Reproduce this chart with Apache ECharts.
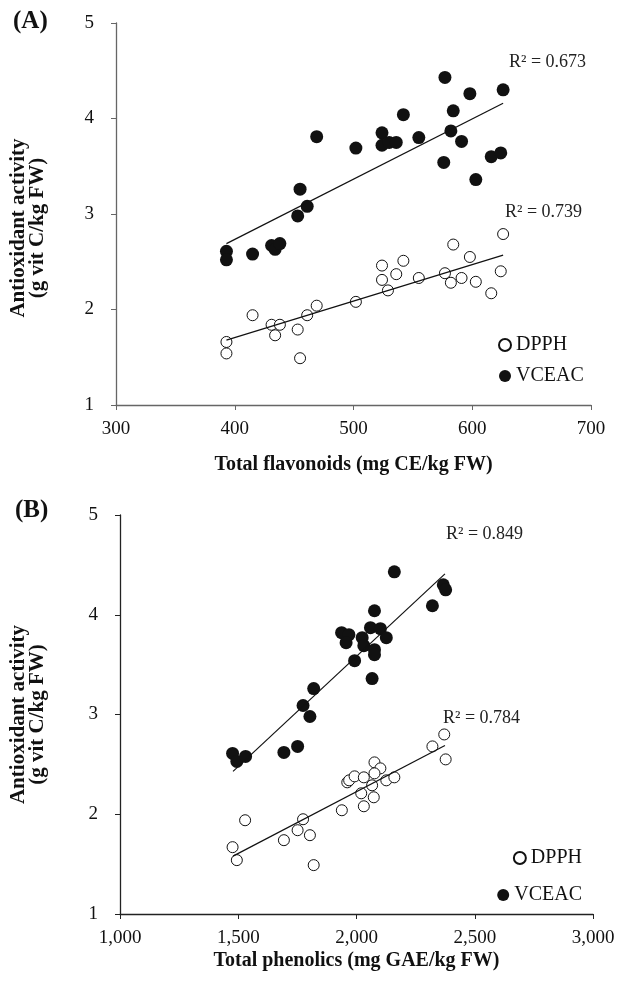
<!DOCTYPE html>
<html>
<head>
<meta charset="utf-8">
<script src="https://cdn.jsdelivr.net/npm/echarts@6/dist/echarts.min.js"></script>
<style>
  html, body { margin: 0; padding: 0; background: #fff; }
  #chart { width: 641px; height: 983px; }
</style>
</head>
<body>
<div id="chart"></div>
<script>
// panel A: total flavonoids vs antioxidant activity
var flavDPPH = [
  [393, 1.66], [393, 1.54], [415, 1.94], [431, 1.84], [434, 1.73], [438, 1.84],
  [453, 1.79], [455, 1.49], [461, 1.94], [469, 2.04], [502, 2.08], [524, 2.46],
  [524, 2.31], [529, 2.20], [536, 2.37], [542, 2.51], [555, 2.33], [577, 2.38],
  [582, 2.28], [584, 2.68], [591, 2.33], [598, 2.55], [603, 2.29], [616, 2.17],
  [624, 2.40], [626, 2.79]
];
var flavVCEAC = [
  [393, 2.61], [393, 2.52], [415, 2.58], [431, 2.67], [434, 2.63], [438, 2.69],
  [453, 2.98], [455, 3.26], [461, 3.08], [469, 3.81], [502, 3.69], [524, 3.85],
  [524, 3.72], [530, 3.75], [536, 3.75], [542, 4.04], [555, 3.80], [577, 4.43],
  [576, 3.54], [582, 3.87], [584, 4.08], [591, 3.76], [598, 4.26], [603, 3.36],
  [616, 3.60], [624, 3.64], [626, 4.30]
];
var flavFitDPPH = [[393, 1.68], [626, 2.57]];
var flavFitVCEAC = [[393, 2.69], [626, 4.16]];

// panel B: total phenolics vs antioxidant activity
var phenDPPH = [
  [1476, 1.67], [1494, 1.54], [1529, 1.94], [1693, 1.74], [1751, 1.84], [1774, 1.95],
  [1803, 1.79], [1819, 1.49], [1938, 2.04], [1961, 2.32], [1969, 2.34], [1992, 2.38],
  [2031, 2.37], [2020, 2.21], [2031, 2.08], [2066, 2.29], [2076, 2.52], [2101, 2.46],
  [2076, 2.41], [2073, 2.17], [2126, 2.34], [2160, 2.37], [2321, 2.68], [2371, 2.80],
  [2377, 2.55]
];
var phenVCEAC = [
  [1476, 2.61], [1494, 2.53], [1531, 2.58], [1693, 2.62], [1751, 2.68], [1774, 3.09],
  [1803, 2.98], [1819, 3.26], [1937, 3.82], [1968, 3.80], [1956, 3.72], [1992, 3.54],
  [2024, 3.77], [2031, 3.69], [2066, 3.36], [2059, 3.87], [2076, 4.04], [2101, 3.86],
  [2076, 3.65], [2076, 3.60], [2126, 3.77], [2160, 4.43], [2321, 4.09], [2367, 4.30],
  [2377, 4.25]
];
var phenFitDPPH = [[1478, 1.58], [2374, 2.69]];
var phenFitVCEAC = [[1478, 2.43], [2374, 4.41]];

var r2Labels = ["R\u00b2 = 0.673", "R\u00b2 = 0.739", "R\u00b2 = 0.849", "R\u00b2 = 0.784"];
var panelLabels = ["(A)", "(B)"];
var xNames = ["Total flavonoids (mg CE/kg FW)", "Total phenolics (mg GAE/kg FW)"];
var yName = "Antioxidant activity\n(g vit C/kg FW)";

var serif = "'Liberation Serif', 'Times New Roman', serif";

function xAxisFor(gridIndex, min, max, interval, axisColor, nameGap, fmt) {
  return {
    type: "value",
    gridIndex: gridIndex,
    min: min,
    max: max,
    interval: interval,
    name: xNames[gridIndex],
    nameLocation: "middle",
    nameGap: nameGap,
    nameTextStyle: { fontFamily: serif, fontSize: 20, fontWeight: "bold", color: "#111" },
    axisLine: { show: true, onZero: false, lineStyle: { color: axisColor, width: 1.3 } },
    axisTick: { show: true, length: 5, lineStyle: { color: axisColor } },
    axisLabel: { fontFamily: serif, fontSize: 19, color: "#111", margin: 15, formatter: fmt },
    splitLine: { show: false },
  };
}

function yAxisFor(gridIndex, axisColor, nameGap, namePad) {
  return {
    type: "value",
    gridIndex: gridIndex,
    min: 1,
    max: 5,
    interval: 1,
    name: yName,
    nameLocation: "middle",
    nameGap: nameGap,
    nameTextStyle: {
      fontFamily: serif, fontSize: 21, fontWeight: "bold", color: "#111",
      lineHeight: 19, padding: namePad,
    },
    axisLine: { show: true, onZero: false, lineStyle: { color: axisColor, width: 1.3 } },
    axisTick: { show: true, length: 5, lineStyle: { color: axisColor } },
    axisLabel: { fontFamily: serif, fontSize: 19, color: "#111", margin: 22 },
    splitLine: { show: false },
  };
}

function scatter(name, data, axisIdx, filled) {
  return {
    type: "scatter",
    name: name,
    xAxisIndex: axisIdx,
    yAxisIndex: axisIdx,
    data: data,
    symbol: "circle",
    symbolSize: filled ? 13 : 11,
    itemStyle: filled
      ? { color: "#111", borderColor: "#111", borderWidth: 0, opacity: 1 }
      : { color: "#fff", borderColor: "#111", borderWidth: 1, opacity: 1 },
    z: filled ? 3 : 2,
  };
}

function fitLine(name, data, axisIdx) {
  return {
    type: "line",
    name: name,
    xAxisIndex: axisIdx,
    yAxisIndex: axisIdx,
    data: data,
    symbol: "none",
    silent: true,
    lineStyle: { color: "#111", width: 1.2 },
    z: 4,
  };
}

var legendText = { fontFamily: serif, fontSize: 20, color: "#111" };

var chart = echarts.init(document.getElementById("chart"));
var option = {
  animation: false,
  backgroundColor: "#fff",
  grid: [
    { left: 114, top: 23, width: 477, height: 382 },
    { left: 118, top: 515, width: 475, height: 399 },
  ],
  xAxis: [
    xAxisFor(0, 300, 700, 100, "#666", 50, null),
    xAxisFor(1, 1000, 3000, 500, "#222", 37, function (v) {
      return v.toLocaleString("en-US");
    }),
  ],
  yAxis: [yAxisFor(0, "#666", 69, [0, 28, 0, 0]), yAxisFor(1, "#222", 73, 0)],
  legend: [
    {
      left: 498, top: 335, orient: "vertical", itemGap: 11,
      itemWidth: 12, itemHeight: 12, padding: 0,
      data: [{ name: "DPPH", icon: "circle" }, { name: "VCEAC", icon: "circle" }],
      textStyle: legendText, selectedMode: false,
    },
    {
      right: 59, top: 848, orient: "vertical", padding: 0,
      itemWidth: 12, itemHeight: 12,
      data: [{ name: "DPPH", icon: "circle" }],
      textStyle: legendText, selectedMode: false,
    },
    {
      right: 59, top: 885, orient: "vertical", padding: 0,
      itemWidth: 12, itemHeight: 12,
      data: [{ name: "VCEAC", icon: "circle" }],
      textStyle: legendText, selectedMode: false,
    },
  ],
  graphic: [
    { type: "text", left: 13, top: 9, style: { text: panelLabels[0], font: "bold 25px " + serif, fill: "#111" } },
    { type: "text", left: 15, top: 498, style: { text: panelLabels[1], font: "bold 25px " + serif, fill: "#111" } },
    { type: "text", left: 509, top: 53, style: { text: r2Labels[0], font: "18px " + serif, fill: "#222" } },
    { type: "text", left: 505, top: 203, style: { text: r2Labels[1], font: "18px " + serif, fill: "#222" } },
    { type: "text", left: 446, top: 525, style: { text: r2Labels[2], font: "18px " + serif, fill: "#222" } },
    { type: "text", left: 443, top: 709, style: { text: r2Labels[3], font: "18px " + serif, fill: "#222" } },
  ],
  series: [
    scatter("DPPH", flavDPPH, 0, false),
    scatter("VCEAC", flavVCEAC, 0, true),
    fitLine("fitA1", flavFitDPPH, 0),
    fitLine("fitA2", flavFitVCEAC, 0),
    scatter("DPPH", phenDPPH, 1, false),
    scatter("VCEAC", phenVCEAC, 1, true),
    fitLine("fitB1", phenFitDPPH, 1),
    fitLine("fitB2", phenFitVCEAC, 1),
  ],
};
chart.setOption(option);
</script>
</body>
</html>
